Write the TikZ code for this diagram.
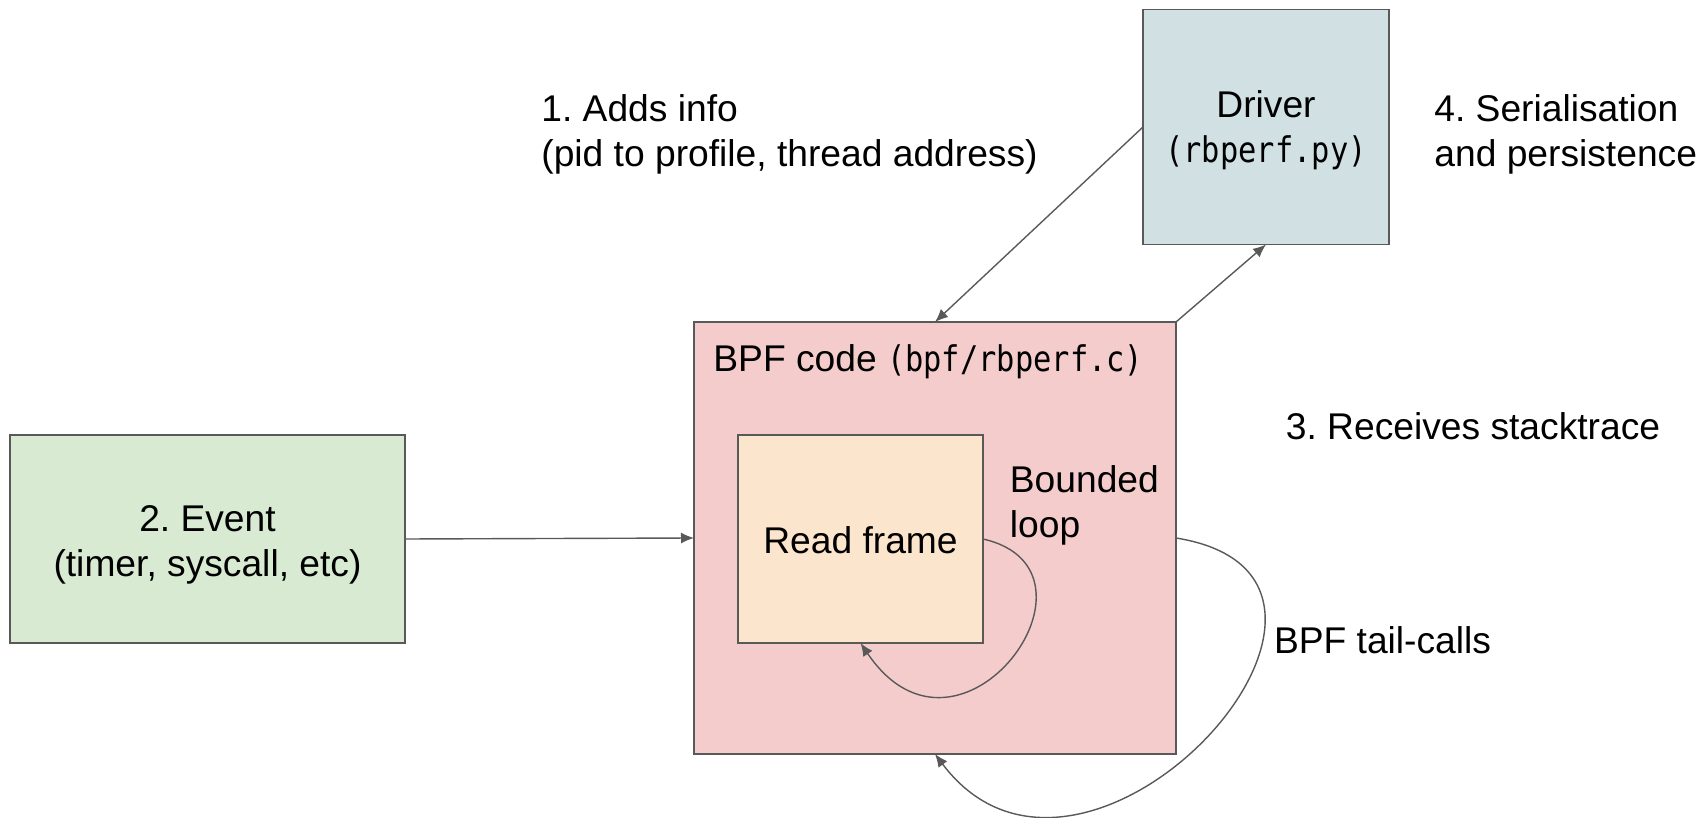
\documentclass[tikz,border=0pt]{standalone}
\usepackage{fontspec}
\setmainfont{Liberation Sans}
\setmonofont[Scale=0.95,FakeStretch=0.86]{DejaVu Sans Mono}
\usetikzlibrary{arrows.meta}
\definecolor{edgegray}{HTML}{595959}
\definecolor{driverfill}{HTML}{D0E0E3}
\definecolor{bpffill}{HTML}{F4CCCC}
\definecolor{framefill}{HTML}{FCE5CD}
\definecolor{eventfill}{HTML}{D9EAD3}
\frenchspacing
\begin{document}
\begin{tikzpicture}[x=0.5pt,y=-0.5pt,
  font=\fontsize{18.6}{22.6}\selectfont,
  box/.style={draw=edgegray, line width=0.8pt, inner sep=0pt, outer sep=0pt},
  boxtext/.style={inner sep=0pt, align=center},
  arr/.style={draw=edgegray, line width=0.7pt, -{Latex[length=6.5pt,width=5.5pt]}},
  lbl/.style={inner sep=0pt, align=left, anchor=west}]
\useasboundingbox (0,0) rectangle (1704,818);
% boxes
\node[box, fill=driverfill, minimum width=123pt, minimum height=117.5pt] (drv) at (1266,127) {};
\node[boxtext] (drvtext) at (1266,130) {Driver\\\texttt{(rbperf.py)}};
\node[box, fill=bpffill, minimum width=241pt, minimum height=216pt] (bpf) at (935,538) {};
\node[box, fill=framefill, minimum width=122.5pt, minimum height=104pt] (rf) at (860.5,539) {};
\node[boxtext] (rftext) at (860.5,540) {Read frame};
\node[box, fill=eventfill, minimum width=197.5pt, minimum height=104pt] (ev) at (207.5,539) {};
\node[boxtext] (evtext) at (207.5,545) {2. Event\\(timer, syscall, etc)};
% labels
\node[lbl] (bpftitle) at (713,362) {BPF code \texttt{(bpf/rbperf.c)}};
\node[lbl] (bounded) at (1009.5,505) {Bounded\\loop};
\node[lbl] (adds) at (541,134) {1. Adds info\\(pid to profile, thread address)};
\node[lbl] (serial) at (1434,134) {4. Serialisation\\and persistence};
\node[lbl] (recv) at (1285.5,426) {3. Receives stacktrace};
\node[lbl] (tail) at (1273.6,640) {BPF tail-calls};
% connectors
\draw[arr] (ev.east) -- (bpf.west);
\draw[arr] (drv.west) -- (bpf.north);
\draw[arr] (bpf.north east) -- (drv.south);
\draw[arr] (rf.east) .. controls (1120,570) and (960,790) .. (rf.south);
\draw[arr] (bpf.east) .. controls (1426,578) and (1086,955) .. (bpf.south);
\end{tikzpicture}
\end{document}
